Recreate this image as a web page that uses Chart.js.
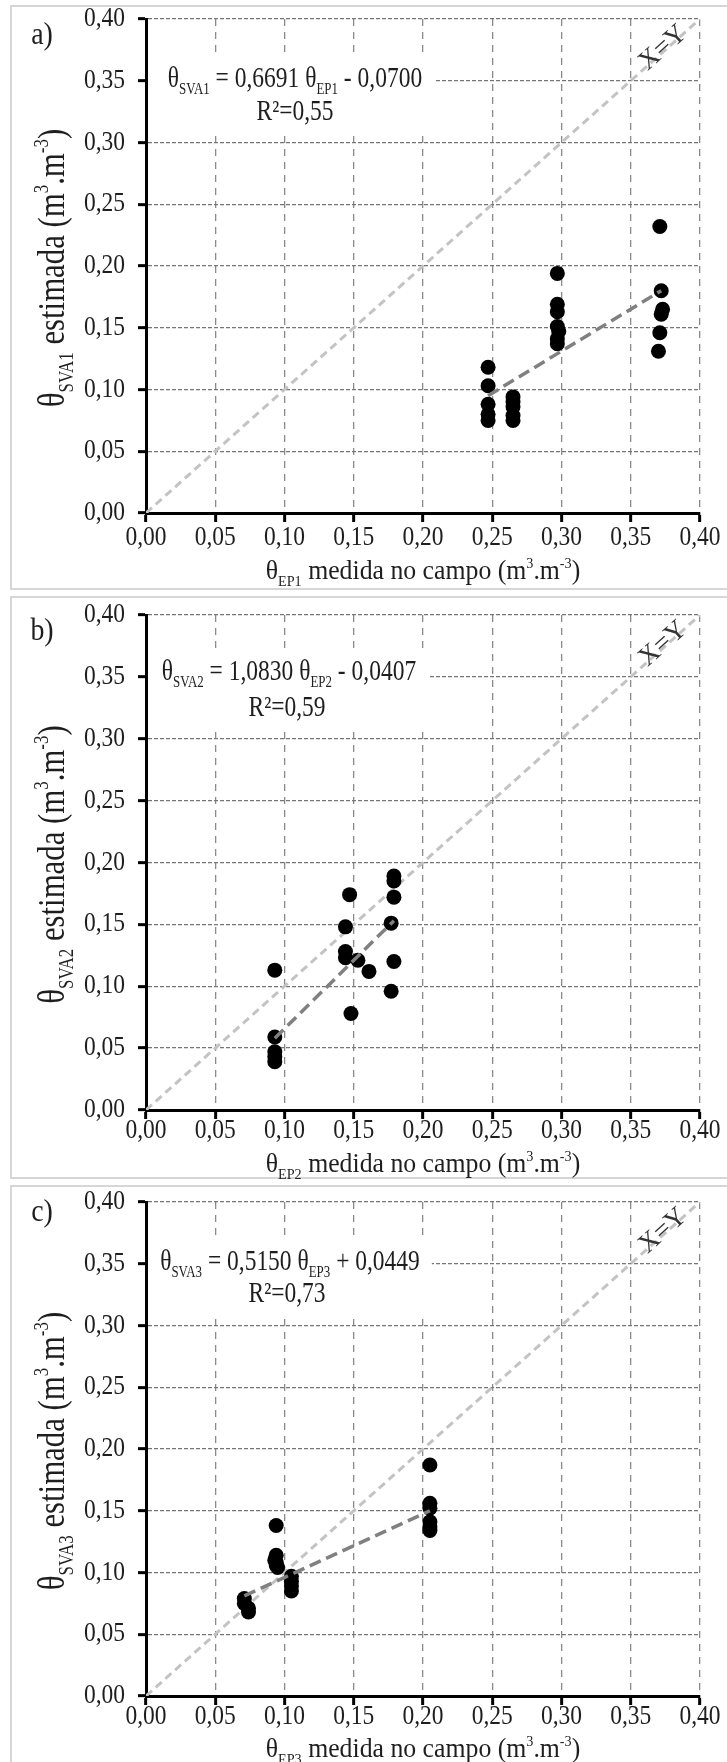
<!DOCTYPE html>
<html>
<head>
<meta charset="utf-8">
<script src="https://cdn.jsdelivr.net/npm/chart.js@4.4.1/dist/chart.umd.min.js"></script>
<style>
  body { margin: 0; background: #fff; width: 727px; overflow: hidden; }
  canvas { display: block; }
</style>
</head>
<body>
<canvas id="chartA" width="727" height="592"></canvas>
<canvas id="chartB" width="727" height="590"></canvas>
<canvas id="chartC" width="727" height="580"></canvas>
<script>
// ticks shared by both axes of the three panels
const tickValues = [0, 0.05, 0.10, 0.15, 0.20, 0.25, 0.30, 0.35, 0.40];
const tickLabels = ['0,00', '0,05', '0,10', '0,15', '0,20', '0,25', '0,30', '0,35', '0,40'];

// 1:1 line (X=Y)
const identityX = [0, 0.40];
const identityY = [0, 0.40];

// a) EP1 measured vs SVA1 estimated
const ep1Measured = [0.247, 0.247, 0.247, 0.247, 0.247,
                     0.265, 0.265, 0.265, 0.265, 0.265,
                     0.297, 0.297, 0.297, 0.297, 0.298, 0.297, 0.297,
                     0.371, 0.372, 0.373, 0.372, 0.371, 0.370];
const sva1Estimated = [0.118, 0.103, 0.088, 0.080, 0.075,
                       0.094, 0.090, 0.086, 0.079, 0.075,
                       0.194, 0.169, 0.163, 0.151, 0.147, 0.141, 0.137,
                       0.232, 0.180, 0.165, 0.161, 0.146, 0.131];
const trend1X = [0.247, 0.372];
const trend1Y = [0.095, 0.180];

// b) EP2 measured vs SVA2 estimated
const ep2Measured = [0.093, 0.093, 0.093, 0.093, 0.093,
                     0.147, 0.144, 0.144, 0.144, 0.148,
                     0.153, 0.161,
                     0.179, 0.179, 0.179, 0.177, 0.179, 0.177];
const sva2Estimated = [0.113, 0.059, 0.047, 0.043, 0.039,
                       0.174, 0.148, 0.128, 0.123, 0.078,
                       0.121, 0.112,
                       0.189, 0.185, 0.172, 0.151, 0.120, 0.096];
const trend2X = [0.093, 0.179];
const trend2Y = [0.058, 0.153];

// c) EP3 measured vs SVA3 estimated
const ep3Measured = [0.071, 0.071, 0.074, 0.074,
                     0.094, 0.094, 0.093, 0.094, 0.094, 0.095,
                     0.105, 0.105, 0.105, 0.105,
                     0.205, 0.205, 0.205, 0.205, 0.205, 0.205];
const sva3Estimated = [0.079, 0.075, 0.071, 0.068,
                       0.138, 0.114, 0.110, 0.108, 0.106, 0.104,
                       0.097, 0.093, 0.089, 0.085,
                       0.187, 0.156, 0.152, 0.141, 0.137, 0.134];
const trend3X = [0.071, 0.205];
const trend3Y = [0.081, 0.150];

const serif = '"Liberation Serif", "Times New Roman", serif';
const ink = '#1e1e1e';
Chart.defaults.font.family = serif;
Chart.defaults.color = ink;

function pts(xs, ys) {
    return xs.map((x, i) => ({ x: x, y: ys[i] }));
}

// text made of runs, some of them sub- or superscript
function runFont(r, size) {
    const s = (r[1] === 'sub' || r[1] === 'sup') ? size * 0.55 : size;
    return s + 'px ' + serif;
}
function runsWidth(ctx, runs, size) {
    let w = 0;
    runs.forEach(r => { ctx.font = runFont(r, size); w += ctx.measureText(r[0]).width; });
    return w;
}
function drawRuns(ctx, runs, cx, cy, size, sx) {
    ctx.save();
    ctx.translate(cx, cy);
    ctx.scale(sx, 1);
    ctx.textBaseline = 'alphabetic';
    ctx.textAlign = 'left';
    ctx.fillStyle = ink;
    let x = -runsWidth(ctx, runs, size) / 2;
    const base = size * 0.33;
    runs.forEach(r => {
        ctx.font = runFont(r, size);
        let dy = 0;
        if (r[1] === 'sub') dy = size * 0.25;
        if (r[1] === 'sup') dy = -size * 0.4;
        ctx.fillText(r[0], x, base + dy);
        x += ctx.measureText(r[0]).width;
    });
    ctx.restore();
}
// narrow text, like the scanned figure
function narrowText(ctx, text, x, y, size, sx, align) {
    ctx.save();
    ctx.translate(x, y);
    ctx.scale(sx, 1);
    ctx.font = size + 'px ' + serif;
    ctx.fillStyle = ink;
    ctx.textAlign = align;
    ctx.textBaseline = 'middle';
    ctx.fillText(text, 0, 0);
    ctx.restore();
}

const decor = {
    id: 'decor',
    beforeDraw(chart, args, o) {
        const ctx = chart.ctx;
        ctx.save();
        ctx.fillStyle = '#fff';
        ctx.fillRect(0, 0, chart.width, chart.height);
        ctx.strokeStyle = '#d6d6d6';
        ctx.lineWidth = 2;
        ctx.strokeRect(o.frame[0], o.frame[1], o.frame[2], o.frame[3]);
        ctx.restore();
    },
    beforeDatasetsDraw(chart, args, o) {
        const ctx = chart.ctx;
        const a = chart.chartArea;
        const eqW = runsWidth(ctx, o.eq, 29) * 0.81;
        ctx.save();
        ctx.fillStyle = '#fff';
        const right = a.left + o.eqX + eqW / 2 + 12;
        ctx.fillRect(a.left + 2, a.top + 36, right - a.left - 2, 76);
        ctx.restore();
        drawRuns(ctx, o.eq, a.left + o.eqX, a.top + o.eqY, 29, 0.81);
        drawRuns(ctx, [[o.r2]], a.left + o.r2X, a.top + o.r2Y, 29, 0.81);
    },
    afterDatasetsDraw(chart) {
        const ctx = chart.ctx;
        const a = chart.chartArea;
        const xs = chart.scales.x, ys = chart.scales.y;
        const ang = Math.atan2(ys.getPixelForValue(0) - ys.getPixelForValue(0.4),
                               xs.getPixelForValue(0.4) - xs.getPixelForValue(0));
        ctx.save();
        ctx.translate(a.right - 37, a.top + 29);
        ctx.rotate(-ang);
        ctx.font = '27px ' + serif;
        ctx.fillStyle = '#333';
        ctx.textAlign = 'center';
        ctx.textBaseline = 'middle';
        ctx.fillText('X=Y', 0, 0);
        ctx.restore();
    },
    afterDraw(chart, args, o) {
        const ctx = chart.ctx;
        const a = chart.chartArea;
        const xs = chart.scales.x, ys = chart.scales.y;

        // tick labels
        tickValues.forEach((v, i) => {
            narrowText(ctx, tickLabels[i], 125, ys.getPixelForValue(v), 27, 0.87, 'right');
            narrowText(ctx, tickLabels[i], xs.getPixelForValue(v), a.bottom + o.tickY, 27, 0.87, 'center');
        });

        narrowText(ctx, o.letter, 42, a.top + o.letterY, 31, 0.9, 'center');

        // y title, rotated
        ctx.save();
        ctx.translate(51, (a.top + a.bottom) / 2 + 2);
        ctx.rotate(-Math.PI / 2);
        drawRuns(ctx, [['θ'], [o.ySub, 'sub'], [' estimada (m'], ['3', 'sup'], ['.m'], ['-3', 'sup'], [')']], 0, 0, 38, 0.81);
        ctx.restore();

        // x title
        drawRuns(ctx, [['θ'], [o.xSub, 'sub'], [' medida no campo (m'], ['3', 'sup'], ['.m'], ['-3', 'sup'], [')']],
                 (a.left + a.right) / 2, a.bottom + o.titleY, 28, 0.92);
    }
};

function axis(dash, gridColor, afterFit) {
    return {
        type: 'linear',
        min: 0,
        max: 0.4,
        afterBuildTicks: s => { s.ticks = tickValues.map(v => ({ value: v })); },
        afterFit: afterFit,
        ticks: {
            display: false,
            autoSkip: false,
            callback: (v, i) => tickLabels[i]
        },
        grid: {
            color: gridColor,
            lineWidth: 1.3,
            tickColor: '#000',
            tickWidth: 3,
            tickLength: 9,
            tickBorderDash: []
        },
        border: { color: '#000', width: 3, dash: dash }
    };
}

function makeChart(p) {
    const yAxis = axis([4, 2], '#767676', s => { s.width = 146; });
    yAxis.grid.tickLength = 8;
    const xAxis = axis([7, 6], '#8a8a8a', s => { s.height = p.xH; });
    return new Chart(document.getElementById(p.id), {
        type: 'scatter',
        data: {
            datasets: [
                {
                    data: pts(p.tx, p.ty),
                    showLine: true,
                    borderColor: '#808080',
                    borderWidth: 3.5,
                    borderDash: [12, 6],
                    pointRadius: 0
                },
                {
                    data: pts(p.x, p.y),
                    backgroundColor: '#000',
                    borderColor: '#000',
                    borderWidth: 0,
                    pointRadius: 7.5
                },
                {
                    data: pts(identityX, identityY),
                    showLine: true,
                    borderColor: '#c3c3c3',
                    borderWidth: 3,
                    borderDash: [8, 5],
                    pointRadius: 0
                }
            ]
        },
        options: {
            responsive: false,
            devicePixelRatio: 1,
            animation: false,
            layout: { padding: { left: 0, right: 27, top: p.top, bottom: 0 } },
            scales: { x: xAxis, y: yAxis },
            plugins: {
                legend: { display: false },
                tooltip: { enabled: false },
                decor: p
            }
        },
        plugins: [decor]
    });
}

makeChart({
    id: 'chartA', x: ep1Measured, y: sva1Estimated, tx: trend1X, ty: trend1Y,
    letter: 'a)', ySub: 'SVA1', xSub: 'EP1',
    eq: [['θ'], ['SVA1', 'sub'], [' = 0,6691 θ'], ['EP1', 'sub'], [' - 0,0700']], r2: 'R²=0,55',
    top: 19, xH: 79, frame: [11, 6, 740, 583],
    eqX: 149, eqY: 58, r2X: 149, r2Y: 91, letterY: 17, titleY: 57, tickY: 25
});
makeChart({
    id: 'chartB', x: ep2Measured, y: sva2Estimated, tx: trend2X, ty: trend2Y,
    letter: 'b)', ySub: 'SVA2', xSub: 'EP2',
    eq: [['θ'], ['SVA2', 'sub'], [' = 1,0830 θ'], ['EP2', 'sub'], [' - 0,0407']], r2: 'R²=0,59',
    top: 23, xH: 72, frame: [11, 5, 740, 581],
    eqX: 143, eqY: 55, r2X: 141, r2Y: 91, letterY: 17, titleY: 53, tickY: 21
});
makeChart({
    id: 'chartC', x: ep3Measured, y: sva3Estimated, tx: trend3X, ty: trend3Y,
    letter: 'c)', ySub: 'SVA3', xSub: 'EP3',
    eq: [['θ'], ['SVA3', 'sub'], [' = 0,5150 θ'], ['EP3', 'sub'], [' + 0,0449']], r2: 'R²=0,73',
    top: 20, xH: 66, frame: [11, 4, 740, 600],
    eqX: 144, eqY: 58, r2X: 141, r2Y: 90, letterY: 11, titleY: 52, tickY: 21
});
</script>
</body>
</html>
